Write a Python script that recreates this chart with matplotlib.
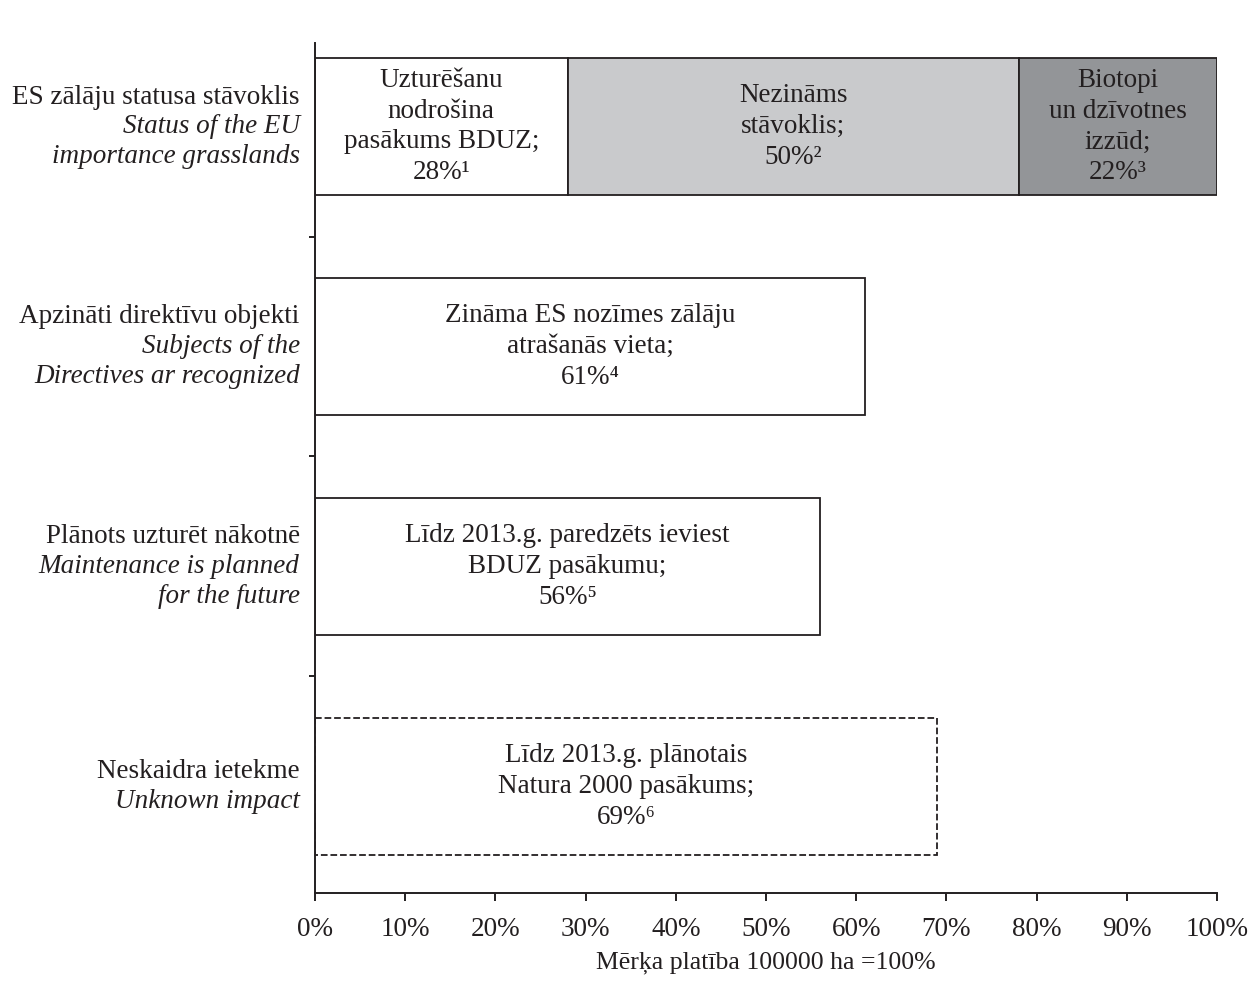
import matplotlib
matplotlib.use("Agg")
import matplotlib.pyplot as plt
from matplotlib.ticker import FixedLocator, PercentFormatter

plt.rcParams['font.family'] = ['Liberation Serif', 'DejaVu Serif']

# category labels: latvian line (upright) + english lines (italic)
cat_lv = ['ES zālāju statusa stāvoklis',
          'Apzināti direktīvu objekti',
          'Plānots uzturēt nākotnē',
          'Neskaidra ietekme']
cat_en = [['Status of the EU', 'importance grasslands'],
          ['Subjects of the', 'Directives ar recognized'],
          ['Maintenance is planned', 'for the future'],
          ['Unknown impact']]

# first row is stacked
status_shares = [28, 50, 22]
status_texts = ['Uzturēšanu\nnodrošina\npasākums BDUZ;\n28%¹',
                'Nezināms\nstāvoklis;\n50%²',
                'Biotopi\nun dzīvotnes\nizzūd;\n22%³']
status_colors = ['white', '#c9cacc', '#939598']

# other rows: one bar each
single_values = [61, 56, 69]
single_texts = ['Zināma ES nozīmes zālāju\natrašanās vieta;\n61%⁴',
                'Līdz 2013.g. paredzēts ieviest\nBDUZ pasākumu;\n56%⁵',
                'Līdz 2013.g. plānotais\nNatura 2000 pasākums;\n69%⁶']
single_styles = ['solid', 'solid', 'dashed']

ink = '#231f20'
fs = 19.5
bar_h = 0.62
lsp = 1.3

fig = plt.figure(figsize=(12.6, 9.82), dpi=100)
ax = fig.add_axes([0.25, 0.0906, 0.7159, 0.8656])

left = 0
for share, txt, col in zip(status_shares, status_texts, status_colors):
    ax.barh(0, share, left=left, height=bar_h, color=col,
            edgecolor=ink, linewidth=1.3)
    ax.text(left + share / 2, 0, txt, ha='center', va='center',
            fontsize=fs, color=ink, linespacing=lsp)
    left += share

for i, (val, txt, ls) in enumerate(zip(single_values, single_texts, single_styles)):
    y = i + 1
    ax.barh(y, val, height=bar_h, color='white', edgecolor=ink,
            linewidth=1.3, linestyle=ls)
    ax.text(val / 2, y, txt, ha='center', va='center',
            fontsize=fs, color=ink, linespacing=lsp)

# category labels
step = 0.1345
tr = ax.get_yaxis_transform()
for i, (lv, en) in enumerate(zip(cat_lv, cat_en)):
    lines = [(lv, 'normal')] + [(e, 'italic') for e in en]
    n = len(lines)
    for j, (s, st) in enumerate(lines):
        ax.text(-0.017, i + (j - (n - 1) / 2) * step, s, transform=tr,
                ha='right', va='center', fontsize=fs, style=st, color=ink)

ax.set_xlim(0, 100)
ax.set_ylim(3.485, -0.38)
ax.xaxis.set_major_locator(FixedLocator(range(0, 101, 10)))
ax.xaxis.set_major_formatter(PercentFormatter(decimals=0))
ax.yaxis.set_major_locator(FixedLocator([0.5, 1.5, 2.5]))
ax.set_yticklabels([])

for side in ['top', 'right']:
    ax.spines[side].set_visible(False)
for side in ['left', 'bottom']:
    ax.spines[side].set_linewidth(1.4)
    ax.spines[side].set_color(ink)
ax.tick_params(axis='x', direction='out', length=6, width=1.4,
               labelsize=fs, colors=ink, pad=11)
ax.tick_params(axis='y', direction='out', length=4.5, width=1.4, colors=ink)

ax.set_xlabel('Mērķa platība 100000 ha =100%', fontsize=18.5, color=ink,
              labelpad=7)

fig.savefig('out.png', dpi=100)
plt.close(fig)
